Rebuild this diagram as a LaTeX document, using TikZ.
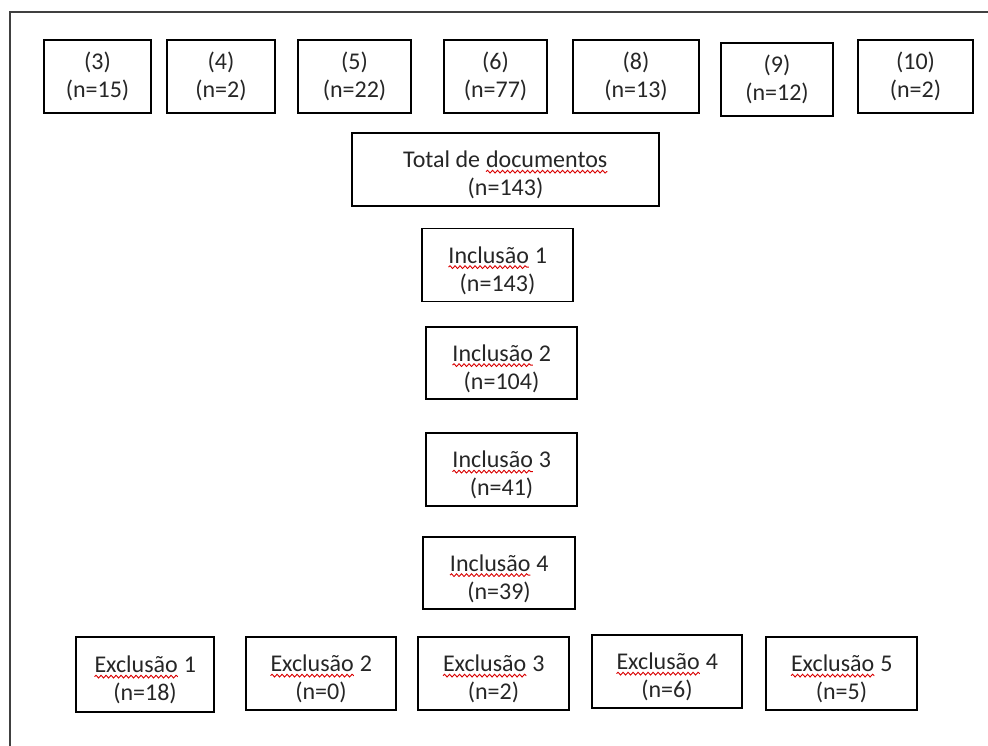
\documentclass[tikz,border=0pt]{standalone}
\usepackage{fontspec}
\setmainfont{Carlito}
\usetikzlibrary{decorations.pathmorphing}
\tikzset{
  box/.style={draw=black, line width=1.5pt, rectangle, align=center,
    font=\fontsize{24}{28}\selectfont, text=black!85, inner sep=0pt,
    minimum height=73pt, execute at begin node={\rule{0pt}{28pt}}},
  sqline/.style={draw=red!85!black, line width=0.9pt, decorate,
    decoration={snake, amplitude=1.4pt, segment length=5pt}},
  frameline/.style={draw=black!75, line width=1.4pt}
}
\newcommand\sqw[1]{\tikz[baseline=(sqwn.base)]{\node[draw=none,fill=none,inner sep=0pt,outer sep=0pt,minimum width=0pt,minimum height=0pt,anchor=base,text=black!85,execute at begin node={}](sqwn){#1};\draw[sqline] ([yshift=-3.8pt]sqwn.base west) -- ([yshift=-3.8pt]sqwn.base east);}}
\begin{document}
\begin{tikzpicture}[x=1pt,y=-1pt]
\useasboundingbox (0,0) rectangle (988,746);
% frame
\coordinate (fr) at (988,12);
\coordinate (fc) at (10,12);
\coordinate (fb) at (10,746);
\draw[frameline] (fr) -- (fc) -- (fb);
% top row
\node[box, minimum width=107pt] (n3) at (97.5,76.5) {(3)\\(n=15)};
\node[box, minimum width=108pt] (n4) at (221,76.5) {(4)\\(n=2)};
\node[box, minimum width=113pt] (n5) at (354.5,76.5) {(5)\\(n=22)};
\node[box, minimum width=103pt] (n6) at (495.5,76.5) {(6)\\(n=77)};
\node[box, minimum width=126pt] (n8) at (636,76.5) {(8)\\(n=13)};
\node[box, minimum width=112pt] (n9) at (777,79.5) {(9)\\(n=12)};
\node[box, minimum width=115pt] (n10) at (915.5,76.5) {(10)\\(n=2)};
% center column
\node[box, minimum width=307pt] (tot) at (505.5,169.5) {Total de \sqw{documentos}\\(n=143)};
\node[box, minimum width=151pt] (i1) at (497.5,265) {\sqw{Inclusão} 1\\(n=143)};
\node[box, minimum width=151pt, minimum height=72pt] (i2) at (501.5,363) {\sqw{Inclusão} 2\\(n=104)};
\node[box, minimum width=151pt] (i3) at (501.5,469.5) {\sqw{Inclusão} 3\\(n=41)};
\node[box, minimum width=152pt, minimum height=72pt] (i4) at (499,573) {\sqw{Inclusão} 4\\(n=39)};
% bottom row
\node[box, minimum width=138pt, minimum height=75pt] (e1) at (145,674.5) {\sqw{Exclusão} 1\\(n=18)};
\node[box, minimum width=150pt] (e2) at (321,673.5) {\sqw{Exclusão} 2\\(n=0)};
\node[box, minimum width=151pt] (e3) at (493.5,673.5) {\sqw{Exclusão} 3\\(n=2)};
\node[box, minimum width=150pt] (e4) at (667,671.5) {\sqw{Exclusão} 4\\(n=6)};
\node[box, minimum width=151pt] (e5) at (841.5,673.5) {\sqw{Exclusão} 5\\(n=5)};
\end{tikzpicture}
\end{document}
